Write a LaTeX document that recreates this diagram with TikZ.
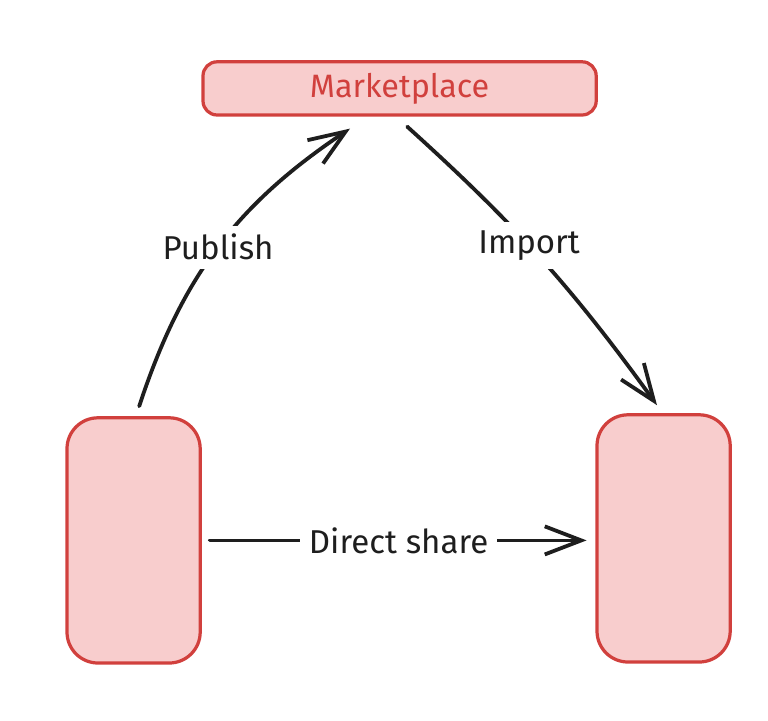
\documentclass[tikz,border=0pt]{standalone}
\usepackage{fontspec}
\setmainfont{Fira Sans}
\usetikzlibrary{arrows.meta}
\definecolor{sharepink}{RGB}{248, 205, 205}
\definecolor{sharered}{RGB}{209, 64, 61}
\definecolor{inkblack}{RGB}{30, 30, 30}

\begin{document}
\begin{tikzpicture}[
    box/.style={draw=sharered, fill=sharepink, line width=2.3pt, rounded corners=10pt},
    flow/.style={draw=inkblack, line width=2.7pt, line cap=round,
        -{Straight Barb[length=26pt, width=20pt]}},
    lbl/.style={fill=white, text=inkblack, font=\fontsize{23.5}{27}\selectfont, inner sep=6pt}
]
            \useasboundingbox (0,0) rectangle (19.2,18);

            % Marketplace box
            \node[box, minimum width=9.83cm, minimum height=1.33cm, text=sharered,
                font=\fontsize{23}{27}\selectfont] (market) at (9.99,15.79) {Marketplace};

            % End boxes
            \node[box, rounded corners=22pt, minimum width=3.33cm, minimum height=6.13cm] (sender) at (3.34,4.49) {};
            \node[box, rounded corners=22pt, minimum width=3.33cm, minimum height=6.18cm] (receiver) at (16.59,4.54) {};

            % Arrows
            \draw[flow] ([xshift=0.14cm, yshift=0.25cm]sender.north) to[bend left=19]
                node[lbl, pos=0.5] (publish) {Publish} ([xshift=-1.24cm, yshift=-0.3cm]market.south);
            \draw[flow] ([xshift=0.19cm, yshift=-0.25cm]market.south) to[bend left=6]
                node[lbl, pos=0.45] (import) {Import} ([xshift=-0.165cm, yshift=0.2cm]receiver.north);
            \draw[flow, shorten <=0.2cm, shorten >=0.22cm] (sender.east) --
                node[lbl] (direct) {Direct share} (sender.east -| receiver.west);
\end{tikzpicture}
\end{document}
